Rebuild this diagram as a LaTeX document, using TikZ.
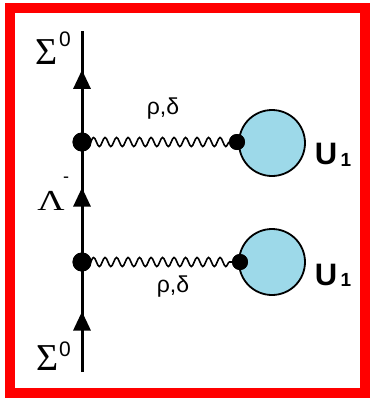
\documentclass[tikz,border=0pt]{standalone}
\usepackage{fontspec}
\setmainfont{Liberation Serif}
\newfontfamily\sansf{Liberation Sans}
\usetikzlibrary{arrows.meta,decorations.pathmorphing,decorations.markings}
\definecolor{loopblue}{RGB}{157,217,233}
\definecolor{frame}{RGB}{255,0,0}
\tikzset{
  vtx/.style={circle,fill=black,inner sep=0pt,minimum size=19pt},
  sdot/.style={circle,fill=black,inner sep=0pt,minimum size=16pt},
  loopc/.style={circle,draw=black,fill=loopblue,line width=1.8pt,inner sep=0pt,minimum size=66pt},
  fermion/.style={line width=3pt},
  midarrow/.style={postaction={decorate},decoration={markings,mark=at position #1 with {\arrow{Triangle[length=19pt,width=17pt]}}}},
  wavy/.style={line width=1.6pt,decorate,decoration={snake,amplitude=4.5pt,segment length=11.5pt,pre length=8pt,post length=6pt}},
  lbl/.style={inner sep=0pt,font=\sansf\fontsize{23}{23}\selectfont}
}
\begin{document}
\begin{tikzpicture}[x=1pt,y=-1pt]
\useasboundingbox (0,0) rectangle (370,400);
\fill[white] (0,0) rectangle (370,400);
\draw[frame,line width=10pt] (10,8) rectangle (365,393);
% fermion line
\coordinate (bot) at (82,372);
\coordinate (top) at (82,31);
\node[vtx] (v1) at (82,262) {};
\node[vtx] (v2) at (82,142) {};
\draw[fermion,midarrow=0.55] (bot) -- (v1.center);
\draw[fermion,midarrow=0.62] (v1.center) -- (v2.center);
\draw[fermion,midarrow=0.65] (v2.center) -- (top);
% loops
\node[loopc] (L2) at (272,143) {};
\node[loopc] (L1) at (272,262) {};
\node[sdot] (d2) at (237,142) {};
\node[sdot] (d1) at (240,262) {};
\draw[wavy] (v2.center) -- (d2.center);
\draw[wavy] (v1.center) -- (d1.center);
\node[sdot] at (d2) {};
\node[sdot] at (d1) {};
\node[vtx] at (v1) {};
\node[vtx] at (v2) {};
% labels
\node[inner sep=0pt,font=\fontsize{38}{38}\selectfont] (s1) at (47,52) {Σ};
\node[inner sep=0pt,font=\sansf\fontsize{21}{21}\selectfont] (s1e) at (65,39) {0};
\node[inner sep=0pt,font=\fontsize{38}{38}\selectfont] (s2) at (48,358) {Σ};
\node[inner sep=0pt,font=\sansf\fontsize{21}{21}\selectfont] (s2e) at (65,349) {0};
\node[inner sep=0pt,font=\fontsize{29}{29}\selectfont] (lam) at (51,201) {\scalebox{1.3}[1]{Λ}};
\node[inner sep=0pt,font=\sansf\fontsize{18}{18}\selectfont] (lame) at (66,180) {-};
\node[lbl] (r2) at (163,109) {ρ,δ};
\node[lbl] (r1) at (173,287) {ρ,δ};
\node[inner sep=0pt,font=\sansf\bfseries\fontsize{31}{31}\selectfont] (u2) at (326,154) {U};
\node[inner sep=0pt,font=\sansf\bfseries\fontsize{19}{19}\selectfont] (u2s) at (346,160) {1};
\node[inner sep=0pt,font=\sansf\bfseries\fontsize{31}{31}\selectfont] (u1) at (326,275) {U};
\node[inner sep=0pt,font=\sansf\bfseries\fontsize{19}{19}\selectfont] (u1s) at (346,280) {1};
\end{tikzpicture}
\end{document}
